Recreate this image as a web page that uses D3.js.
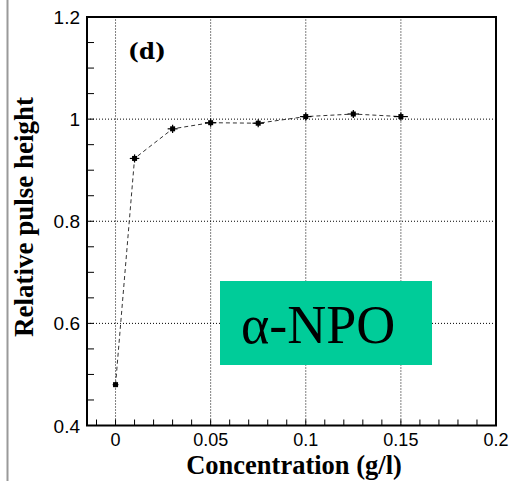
<!DOCTYPE html>
<html>
<head>
<meta charset="utf-8">
<script src="https://cdn.jsdelivr.net/npm/d3@7"></script>
<style>
  body { margin: 0; background: #fff; }
  svg { display: block; }
</style>
</head>
<body>
<div id="chart"></div>
<script>
// Data
const concentration = [0, 0.01, 0.03, 0.05, 0.075, 0.1, 0.125, 0.15];
const pulseHeight = [0.48, 0.923, 0.981, 0.993, 0.992, 1.005, 1.010, 1.005];
const errY = [0.005, 0.008, 0.008, 0.008, 0.008, 0.008, 0.008, 0.008];
const errX = [0.0015, 0.0025, 0.0026, 0.003, 0.003, 0.003, 0.003, 0.0037];
const xTicks = [0, 0.05, 0.1, 0.15, 0.2];
const yTicks = [0.4, 0.6, 0.8, 1, 1.2];
const xGrid = [0, 0.05, 0.1, 0.15];
const yGrid = [0.6, 0.8, 1];

const width = 514, height = 481;
const margin = { left: 87, right: 18, top: 17, bottom: 55 };
const serif = "Liberation Serif, Times New Roman, serif";

const svg = d3.select("#chart").append("svg")
    .attr("width", width)
    .attr("height", height);

// grey page border on the left
svg.append("line")
    .attr("x1", 7.5).attr("x2", 7.5)
    .attr("y1", 0).attr("y2", height)
    .attr("stroke", "#9a9a9a").attr("stroke-width", 2);

const x = d3.scaleLinear().domain([-0.015, 0.2]).range([margin.left, width - margin.right]);
const y = d3.scaleLinear().domain([0.4, 1.2]).range([height - margin.bottom - 0.5, margin.top]);

// Grid lines (dotted)
svg.append("g").selectAll("line").data(xGrid).enter().append("line")
    .attr("x1", d => x(d)).attr("x2", d => x(d))
    .attr("y1", y(0.4)).attr("y2", y(1.2))
    .attr("stroke", "#000").attr("stroke-width", 1)
    .attr("stroke-dasharray", "1,2");
svg.append("g").selectAll("line").data(yGrid).enter().append("line")
    .attr("x1", x(-0.015)).attr("x2", x(0.2))
    .attr("y1", d => y(d)).attr("y2", d => y(d))
    .attr("stroke", "#000").attr("stroke-width", 1)
    .attr("stroke-dasharray", "1,2");

// Minor ticks drawn inward
const xMinor = d3.range(-0.01, 0.2, 0.01);
svg.append("g").selectAll("line").data(xMinor).enter().append("line")
    .attr("x1", d => x(d)).attr("x2", d => x(d))
    .attr("y1", y(0.4)).attr("y2", y(0.4) - 6)
    .attr("stroke", "#000").attr("stroke-width", 1);
const yMinor = d3.range(0.45, 1.2, 0.05);
svg.append("g").selectAll("line").data(yMinor).enter().append("line")
    .attr("x1", x(-0.015)).attr("x2", x(-0.015) + 7)
    .attr("y1", d => y(d)).attr("y2", d => y(d))
    .attr("stroke", "#000").attr("stroke-width", 1);

// Frame
svg.append("rect")
    .attr("x", x(-0.015)).attr("y", y(1.2))
    .attr("width", x(0.2) - x(-0.015))
    .attr("height", y(0.4) - y(1.2))
    .attr("fill", "none").attr("stroke", "#000").attr("stroke-width", 2);

// Tick labels
svg.append("g").selectAll("text").data(xTicks).enter().append("text")
    .attr("x", d => x(d)).attr("y", 445.5)
    .attr("text-anchor", "middle")
    .attr("font-family", "Liberation Sans, Arial, sans-serif")
    .attr("font-size", 18)
    .text(d => d);
svg.append("g").selectAll("text").data(yTicks).enter().append("text")
    .attr("x", x(-0.015) - 7).attr("y", d => y(d) + 7)
    .attr("text-anchor", "end")
    .attr("font-family", "Liberation Sans, Arial, sans-serif")
    .attr("font-size", 19)
    .text(d => d);

// Axis titles
svg.append("text")
    .attr("x", 294).attr("y", 473.5)
    .attr("text-anchor", "middle")
    .attr("font-family", serif)
    .attr("font-weight", "bold").attr("font-size", 26.5)
    .text("Concentration (g/l)");
svg.append("text")
    .attr("transform", "translate(33,217) rotate(-90)")
    .attr("text-anchor", "middle")
    .attr("font-family", serif)
    .attr("font-weight", "bold").attr("font-size", 27)
    .text("Relative pulse height");

// Panel label
svg.append("text")
    .attr("x", 128).attr("y", 59)
    .attr("font-family", "DejaVu Serif, serif")
    .attr("font-weight", "bold").attr("font-size", 23)
    .text("(d)");

// Data
const points = concentration.map((c, i) => ({ c: c, v: pulseHeight[i], ey: errY[i], ex: errX[i] }));

svg.append("path")
    .datum(points)
    .attr("fill", "none")
    .attr("stroke", "#333")
    .attr("stroke-width", 1)
    .attr("stroke-dasharray", "4,3")
    .attr("d", d3.line().x(d => x(d.c)).y(d => y(d.v)));

const pt = svg.append("g").selectAll("g").data(points).enter().append("g");
pt.append("line")
    .attr("x1", d => x(d.c)).attr("x2", d => x(d.c))
    .attr("y1", d => y(d.v - d.ey)).attr("y2", d => y(d.v + d.ey))
    .attr("stroke", "#000").attr("stroke-width", 1.2);
pt.append("line")
    .attr("x1", d => x(d.c - d.ex)).attr("x2", d => x(d.c + d.ex))
    .attr("y1", d => y(d.v)).attr("y2", d => y(d.v))
    .attr("stroke", "#000").attr("stroke-width", 1.2);
pt.append("rect")
    .attr("x", d => x(d.c) - 2.5).attr("y", d => y(d.v) - 2.5)
    .attr("width", 5).attr("height", 5)
    .attr("fill", "#000");

// Legend box
svg.append("rect")
    .attr("x", 220).attr("y", 281)
    .attr("width", 212).attr("height", 84)
    .attr("fill", "#00cc99");
svg.append("text")
    .attr("x", 241).attr("y", 343)
    .attr("font-family", serif)
    .attr("font-size", 54)
    .text("α-NPO");
</script>
</body>
</html>
